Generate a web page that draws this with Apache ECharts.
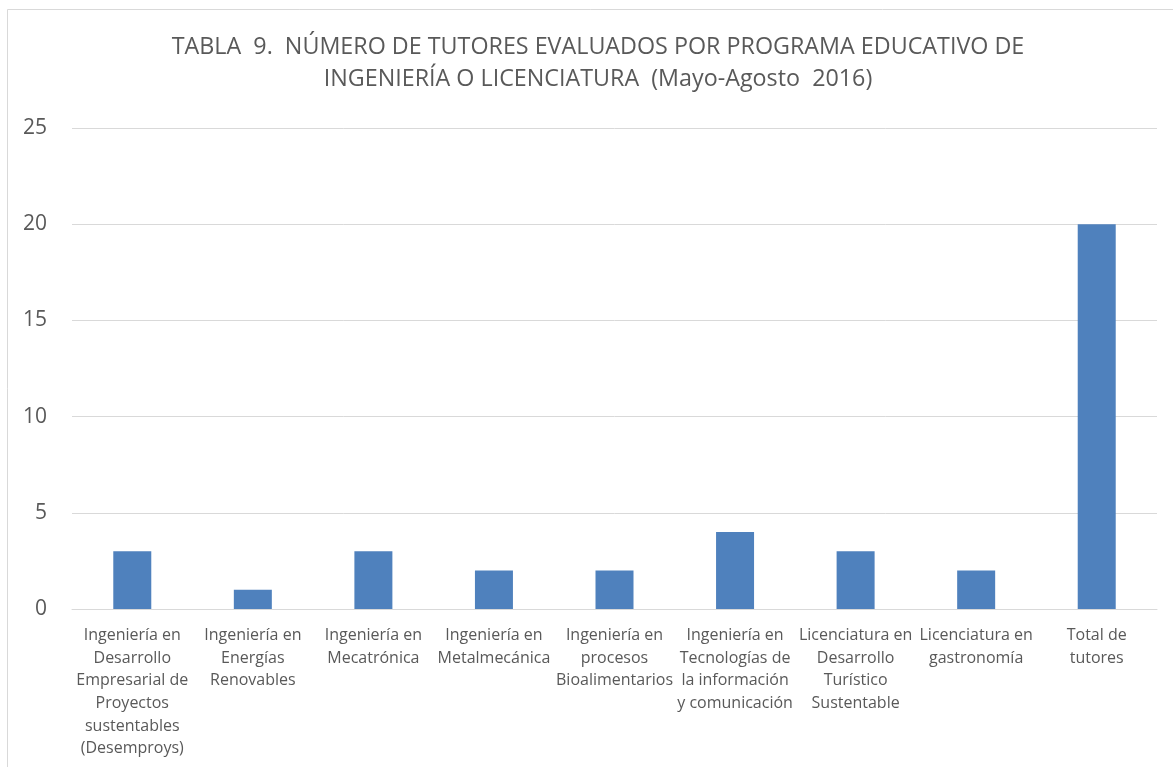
<!DOCTYPE html>
<html>
<head>
<meta charset="utf-8">
<script src="https://cdn.jsdelivr.net/npm/echarts@6/dist/echarts.min.js"></script>
<style>
  html, body { margin: 0; padding: 0; background: #fff; }
  #chart { width: 1173px; height: 767px; }
</style>
</head>
<body>
<div id="chart"></div>
<script>
  // programas educativos (etiquetas con saltos de linea como en el original)
  var programas = [
    'Ingeniería en\nDesarrollo\nEmpresarial de\nProyectos\nsustentables\n(Desemproys)',
    'Ingeniería en\nEnergías\nRenovables',
    'Ingeniería en\nMecatrónica',
    'Ingeniería en\nMetalmecánica',
    'Ingeniería en\nprocesos\nBioalimentarios',
    'Ingeniería en\nTecnologías de\nla información\ny comunicación',
    'Licenciatura en\nDesarrollo\nTurístico\nSustentable',
    'Licenciatura en\ngastronomía',
    'Total de\ntutores'
  ];
  var tutores = [3, 1, 3, 2, 2, 4, 3, 2, 20];
  var yTicks = [0, 5, 10, 15, 20, 25];

  var fontFam = '"Open Sans", Lato, sans-serif';
  var gris = '#595959';

  var mychart = echarts.init(document.getElementById('chart'));
  var option = {
    backgroundColor: '#fff',
    animation: false,
    title: {
      text: 'TABLA  9.  NÚMERO DE TUTORES EVALUADOS POR PROGRAMA EDUCATIVO DE\nINGENIERÍA O LICENCIATURA  (Mayo-Agosto  2016)',
      left: 593,
      textAlign: 'center',
      top: 26,
      textStyle: {
        fontFamily: fontFam,
        fontSize: 23.3,
        fontWeight: 'normal',
        color: gris,
        lineHeight: 32
      }
    },
    graphic: [{
      type: 'rect',
      silent: true,
      shape: { x: 7.5, y: 9.5, width: 1300, height: 900 },
      style: { fill: 'none', stroke: '#d9d9d9', lineWidth: 1 }
    }],
    grid: {
      left: 72,
      right: 16,
      top: 128,
      bottom: 158
    },
    xAxis: {
      type: 'category',
      data: programas,
      axisLine: { lineStyle: { color: '#d9d9d9', width: 1 } },
      axisTick: { show: false },
      axisLabel: {
        interval: 0,
        margin: 15,
        fontFamily: fontFam,
        fontSize: 16,
        color: gris,
        lineHeight: 22.7,
        align: 'center'
      }
    },
    yAxis: {
      type: 'value',
      min: yTicks[0],
      max: yTicks[yTicks.length - 1],
      interval: 5,
      axisLine: { show: false },
      axisTick: { show: false },
      axisLabel: {
        margin: 25,
        fontFamily: fontFam,
        fontSize: 21,
        color: gris
      },
      splitLine: { lineStyle: { color: '#d9d9d9', width: 1 } }
    },
    series: [{
      type: 'bar',
      data: tutores,
      barWidth: 38,
      itemStyle: { color: '#4f81bd' }
    }]
  };
  mychart.setOption(option);
</script>
</body>
</html>
